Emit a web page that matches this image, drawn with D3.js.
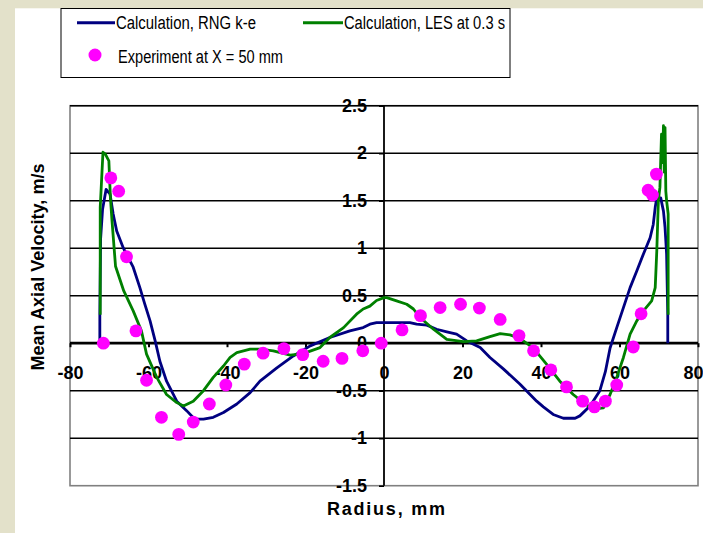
<!DOCTYPE html>
<html>
<head>
<meta charset="utf-8">
<script src="https://cdn.jsdelivr.net/npm/d3@7"></script>
<style>
  body { margin: 0; background: #e3e1ca; }
  svg { display: block; font-family: Arial, "Liberation Sans", sans-serif; }
  .axis text { font-weight: bold; font-size: 18px; fill: #000; }
  .legend text { font-size: 18px; fill: #000; }
</style>
</head>
<body>
<svg id="chart"></svg>
<script>
// radius (mm) / mean axial velocity (m/s)
const rngX = [-72.4, -72.4, -72.2, -71.7, -70.8, -69.8, -69.0, -68.1, -66.4, -63.9, -62.2, -61.0, -59.6, -58.3, -57.1,
  -55.4, -52.8, -50.3, -48.2, -46.0, -43.5, -40.9, -37.5, -34.1, -31.6, -27.3, -23.1, -18.8, -13.8, -8.7, -5.3, -3.6,
  -1.9, 0, 2.4, 6.6, 8.3, 10.9, 13.4, 16.0, 18.5, 21.1, 24.5, 27.0, 30.4, 34.6, 38.9, 40.6, 43.1, 45.7, 48.7, 49.9,
  52.5, 55.0, 56.4, 57.6, 59.3, 61.0, 62.7, 64.4, 66.1, 67.8, 68.6, 69.1, 69.5, 70.5, 71.2, 71.6, 72.0, 72.3, 72.3];
const rngY = [0, 0.3, 1.1, 1.41, 1.62, 1.57, 1.36, 1.18, 1.0, 0.8, 0.585, 0.42, 0.235, 0.024, -0.19,
  -0.40, -0.61, -0.71, -0.80, -0.80, -0.78, -0.73, -0.64, -0.52, -0.40, -0.26, -0.134, -0.028, 0.06, 0.13, 0.164, 0.2,
  0.217, 0.217, 0.217, 0.217, 0.2, 0.19, 0.147, 0.12, 0.095, 0.024, -0.046, -0.15, -0.27, -0.43, -0.61, -0.67, -0.75, -0.79, -0.79, -0.765,
  -0.66, -0.50, -0.30, -0.05, 0.164, 0.375, 0.585, 0.76, 0.94, 1.11, 1.25, 1.43, 1.53, 1.53, 1.39, 1.22, 0.94, 0.3, 0];

const lesX = [-72.3, -72.3, -71.6, -71.0, -70.1, -69.7, -69.3, -68.4, -66.3, -63.9, -61.8, -60.5, -57.9, -55.4, -52.8,
  -51.1, -48.6, -46.0, -43.5, -40.9, -39.2, -37.5, -34.1, -31.6, -28.2, -23.9, -20.6, -16.3, -13.8, -10.3, -7.0, -5.3,
  -3.6, -1.9, 0, 0.7, 3.2, 5.8, 7.5, 9.2, 12.6, 16.0, 20.2, 23.6, 27.0, 29.6, 32.1, 34.6, 38.0, 41.4, 44.8, 48.2, 50.8,
  53.3, 55.9, 57.6, 59.3, 61.0, 62.7, 64.4, 66.1, 68.2, 69.1, 69.5, 69.9, 70.3, 70.7, 71.0, 71.2, 71.4, 71.6, 71.8,
  72.0, 72.4, 72.4];
const lesY = [0.3, 1.43, 2.01, 1.99, 1.92, 1.53, 1.29, 0.81, 0.55, 0.34, 0.13, -0.115, -0.36, -0.54, -0.625,
  -0.66, -0.61, -0.50, -0.36, -0.24, -0.15, -0.10, -0.063, -0.063, -0.08, -0.126, -0.11, -0.046, 0.06, 0.164, 0.305, 0.36,
  0.39, 0.45, 0.48, 0.48, 0.445, 0.41, 0.36, 0.27, 0.147, 0.04, 0.017, 0.024, 0.07, 0.1, 0.087, 0.05, -0.05, -0.22, -0.40, -0.54, -0.625,
  -0.695, -0.68, -0.54, -0.36, -0.15, 0.095, 0.235, 0.34, 0.445, 0.585, 0.97, 1.5, 1.64, 2.2, 1.9, 2.29, 1.8, 2.27, 1.6,
  1.5, 1.36, 0.3];

const expX = [-71.5, -69.6, -67.6, -65.6, -63.2, -60.5, -56.7, -52.3, -48.6, -44.5, -40.3, -35.6, -30.8, -25.5, -20.7,
  -15.5, -10.7, -5.4, -0.7, 4.6, 9.3, 14.3, 19.5, 24.3, 29.6, 34.4, 38.1, 42.5, 46.5, 50.6, 53.6, 56.4, 59.3, 63.5,
  65.5, 67.3, 68.4, 69.4];
const expY = [0, 1.74, 1.60, 0.91, 0.13, -0.39, -0.78, -0.96, -0.83, -0.64, -0.44, -0.22, -0.105, -0.057, -0.12,
  -0.19, -0.16, -0.08, 0, 0.14, 0.29, 0.375, 0.41, 0.37, 0.25, 0.08, -0.08, -0.28, -0.46, -0.61, -0.67, -0.61, -0.44, -0.04,
  0.31, 1.61, 1.56, 1.78];

const xTicks = [-80, -60, -40, -20, 0, 20, 40, 60, 80];
const yTicks = [-1.5, -1, -0.5, 0, 0.5, 1, 1.5, 2, 2.5];

const seriesNames = ["Calculation, RNG k-e", "Calculation, LES at 0.3 s", "Experiment at X = 50 mm"];

class VelocityChart {
  constructor(_config) {
    this.config = {
      parentElement: _config.parentElement,
      containerWidth: _config.containerWidth || 703,
      containerHeight: _config.containerHeight || 533,
      plot: _config.plot || {left: 70, top: 105.7, right: 698, bottom: 485.7}
    };
    this.initVis();
  }

  initVis() {
    let vis = this;
    const p = vis.config.plot;

    vis.svg = d3.select(vis.config.parentElement)
        .attr('width', vis.config.containerWidth)
        .attr('height', vis.config.containerHeight);

    // white slide panel over the beige background
    vis.svg.append('rect')
        .attr('x', 15).attr('y', 8.3)
        .attr('width', vis.config.containerWidth - 15)
        .attr('height', vis.config.containerHeight - 8.3)
        .attr('fill', '#fff');

    vis.xScale = d3.scaleLinear().domain([-80, 80]).range([p.left, p.right]);
    vis.yScale = d3.scaleLinear().domain([-1.5, 2.5]).range([p.bottom, p.top]);

    vis.xAxis = d3.axisBottom(vis.xScale)
        .tickValues(xTicks)
        .tickSize(4)
        .tickPadding(19)
        .tickFormat(d => String(d));

    vis.yAxis = d3.axisLeft(vis.yScale)
        .tickValues(yTicks)
        .tickSize(5)
        .tickPadding(12)
        .tickFormat(d => String(d));
  }

  renderVis() {
    let vis = this;
    const p = vis.config.plot;
    const x = vis.xScale, y = vis.yScale;

    // plot frame
    vis.svg.append('rect')
        .attr('x', p.left).attr('y', p.top)
        .attr('width', p.right - p.left).attr('height', p.bottom - p.top)
        .attr('fill', 'none')
        .attr('stroke', '#808080')
        .attr('stroke-width', 1.6);

    // horizontal gridlines
    vis.svg.append('g')
        .selectAll('line')
        .data(yTicks.filter(d => d !== 0 && d !== -1.5))
        .join('line')
        .attr('x1', p.left).attr('x2', p.right)
        .attr('y1', d => y(d)).attr('y2', d => y(d))
        .attr('stroke', '#000')
        .attr('stroke-width', 1.6);

    // axes cross at zero
    const yAxisG = vis.svg.append('g')
        .attr('class', 'axis y-axis')
        .attr('transform', `translate(${x(0)},0)`)
        .call(vis.yAxis);
    yAxisG.select('.domain').remove();
    yAxisG.selectAll('.tick line').attr('stroke', '#000').attr('stroke-width', 1.6);
    vis.svg.append('line')
        .attr('x1', x(0)).attr('x2', x(0))
        .attr('y1', p.top).attr('y2', p.bottom)
        .attr('stroke', '#000').attr('stroke-width', 1.8);

    const xAxisG = vis.svg.append('g')
        .attr('class', 'axis x-axis')
        .attr('transform', `translate(0,${y(0)})`)
        .call(vis.xAxis);
    xAxisG.select('.domain').remove();
    xAxisG.selectAll('.tick line').attr('stroke', '#000').attr('stroke-width', 2);
    // last label sits against the right edge of the slide
    xAxisG.selectAll('.tick text').filter(d => d === 80).attr('text-anchor', 'end').attr('x', 5);
    vis.svg.append('line')
        .attr('x1', p.left).attr('x2', p.right)
        .attr('y1', y(0)).attr('y2', y(0))
        .attr('stroke', '#000').attr('stroke-width', 2.8);

    // lines
    const line = d3.line().x(d => x(d[0])).y(d => y(d[1]));
    vis.svg.append('path')
        .datum(d3.zip(rngX, rngY))
        .attr('d', line)
        .attr('fill', 'none')
        .attr('stroke', '#000080')
        .attr('stroke-width', 2.8)
        .attr('stroke-linejoin', 'round');
    vis.svg.append('path')
        .datum(d3.zip(lesX, lesY))
        .attr('d', line)
        .attr('fill', 'none')
        .attr('stroke', '#008000')
        .attr('stroke-width', 2.8)
        .attr('stroke-linejoin', 'round');

    // experiment points
    vis.svg.append('g')
        .selectAll('circle')
        .data(d3.zip(expX, expY))
        .join('circle')
        .attr('cx', d => x(d[0]))
        .attr('cy', d => y(d[1]))
        .attr('r', 6.4)
        .attr('fill', '#ff00ff');

    // axis titles
    vis.svg.append('text')
        .attr('transform', 'translate(44,267) rotate(-90)')
        .attr('text-anchor', 'middle')
        .attr('font-weight', 'bold')
        .attr('font-size', 18)
        .attr('textLength', 207)
        .attr('lengthAdjust', 'spacing')
        .text('Mean Axial Velocity, m/s');

    vis.svg.append('text')
        .attr('x', 386).attr('y', 515)
        .attr('text-anchor', 'middle')
        .attr('font-weight', 'bold')
        .attr('font-size', 18)
        .attr('textLength', 118)
        .attr('lengthAdjust', 'spacing')
        .text('Radius, mm');

    // legend
    const lg = vis.svg.append('g').attr('class', 'legend');
    lg.append('rect')
        .attr('x', 61).attr('y', 8.5)
        .attr('width', 449).attr('height', 69)
        .attr('fill', '#fff')
        .attr('stroke', '#000')
        .attr('stroke-width', 1);
    lg.append('line')
        .attr('x1', 77).attr('x2', 115).attr('y1', 22.7).attr('y2', 22.7)
        .attr('stroke', '#000080').attr('stroke-width', 3);
    lg.append('text').attr('x', 116).attr('y', 29)
        .attr('textLength', 140).attr('lengthAdjust', 'spacingAndGlyphs')
        .text(seriesNames[0]);
    lg.append('line')
        .attr('x1', 303).attr('x2', 343).attr('y1', 22.7).attr('y2', 22.7)
        .attr('stroke', '#008000').attr('stroke-width', 3);
    lg.append('text').attr('x', 344).attr('y', 29)
        .attr('textLength', 161).attr('lengthAdjust', 'spacingAndGlyphs')
        .text(seriesNames[1]);
    lg.append('circle')
        .attr('cx', 95).attr('cy', 55).attr('r', 6.5)
        .attr('fill', '#ff00ff');
    lg.append('text').attr('x', 118).attr('y', 63)
        .attr('textLength', 165).attr('lengthAdjust', 'spacingAndGlyphs')
        .text(seriesNames[2]);
  }
}

const chart = new VelocityChart({parentElement: '#chart'});
chart.renderVis();
</script>
</body>
</html>
